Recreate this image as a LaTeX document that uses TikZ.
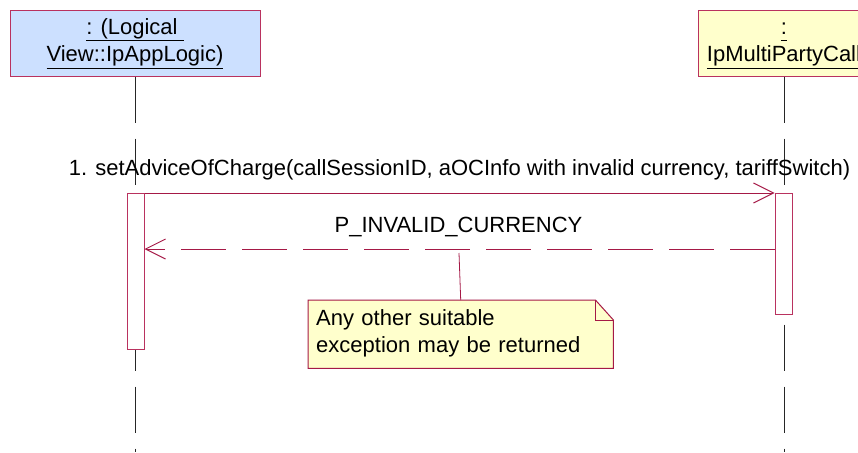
\documentclass[tikz,border=0pt]{standalone}
\usepackage{fontspec}
\setmainfont{Liberation Sans}
\usetikzlibrary{arrows.meta}
\definecolor{umlborder}{RGB}{185,50,95}
\definecolor{umlline}{RGB}{165,25,70}
\definecolor{objblue}{RGB}{204,224,255}
\definecolor{objyellow}{RGB}{255,255,204}
\definecolor{noteyellow}{RGB}{255,255,204}
\newcommand\ulx[1]{\underline{\vphantom{(}#1}}
\begin{document}
\begin{tikzpicture}[x=1pt,y=-1pt,
  font=\fontsize{22}{27.5}\selectfont,
  objbox/.style={draw=umlborder,line width=1pt,minimum height=65pt,align=center,inner sep=0pt},
  actbox/.style={draw=umlborder,fill=white,line width=1pt,minimum width=17pt,inner sep=0pt,anchor=north},
  lifeline/.style={draw=black!85,line width=0.9pt,dash pattern=on 46pt off 16pt},
  msg/.style={draw=umlline,line width=1pt,-{Straight Barb[length=20pt,width=20pt,line width=1pt]}},
  retmsg/.style={msg,dash pattern=on 45pt off 16pt},
  notebox/.style={anchor=north west,minimum width=305pt,minimum height=68pt,text width=289pt,inner xsep=8pt,align=left},
  lbl/.style={anchor=base,inner sep=0pt}]
\useasboundingbox (0,0) rectangle (858,452);
\clip (0,0) rectangle (858,452);
% objects
\node[objbox,fill=objblue,minimum width=250pt] (objA) at (135,43.5) {\ulx{: (Logical\ }\\\ulx{View::IpAppLogic)}};
\node[objbox,fill=objyellow,minimum width=172pt] (objB) at (784,43.5) {\ulx{:}\\\ulx{IpMultiPartyCall}};
% lifeline ends
\coordinate (endA) at (135,452);
\coordinate (endB) at (784,452);
\draw[lifeline] (objA.south) -- (endA);
\draw[lifeline] (objB.south) -- (endB);
% activations
\node[actbox,minimum height=156pt] (actA) at (135.5,193) {};
\node[actbox,minimum height=121pt] (actB) at (783.5,193) {};
% messages
\draw[msg] (actA.north east) -- (actB.north west);
\node[lbl] (m1) at (459.5,175) {1. setAdviceOfCharge(callSessionID, aOCInfo with invalid currency, tariffSwitch)};
\draw[retmsg] ([yshift=-56pt]actB.north west) -- ([yshift=-56pt]actA.north east);
\node[lbl] (m2) at (458.5,232) {P\_INVALID\_CURRENCY};
% note
\node[notebox] (note) at (308,300) {\phantom{Any other suitable}};
\draw[umlline,line width=1pt,fill=noteyellow]
  (note.north west) -- ([xshift=-18pt]note.north east) -- ([yshift=-20pt]note.north east)
  -- (note.south east) -- (note.south west) -- cycle;
\draw[umlline,line width=0.8pt] ([xshift=-18pt]note.north east) -- ([xshift=-18pt,yshift=-20pt]note.north east) -- ([yshift=-20pt]note.north east);
\node[notebox] (notetext) at (308,299) {Any other suitable\\exception may be returned};
\coordinate (anc) at (459,253);
\draw[umlline,line width=0.8pt] (note.north) -- (anc);
\end{tikzpicture}
\end{document}
